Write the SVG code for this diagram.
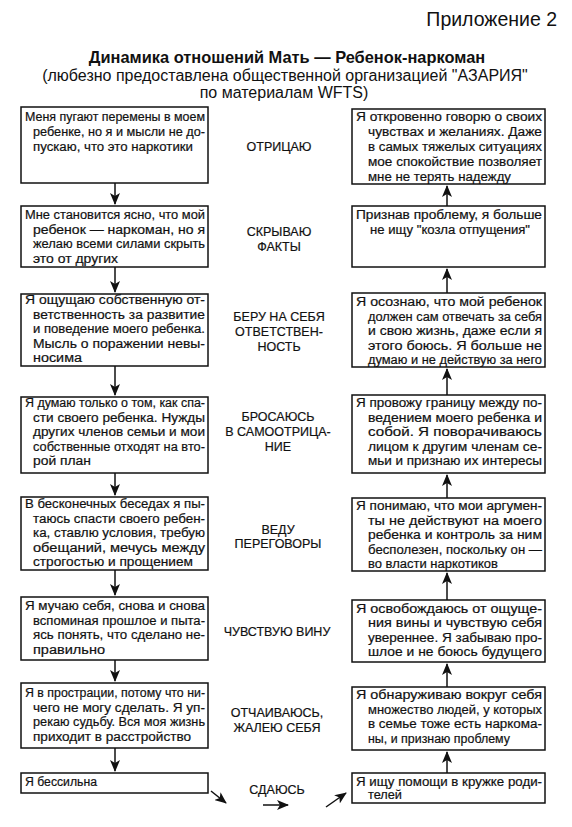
<svg xmlns="http://www.w3.org/2000/svg" width="572" height="827" viewBox="0 0 572 827">
<defs>
<marker id="ah" markerUnits="userSpaceOnUse" markerWidth="12" markerHeight="10" viewBox="0 0 12 10" refX="11" refY="5" orient="auto">
<path d="M0,0 L12,5 L0,10 L3,5 z" fill="#111"/>
</marker>
<style>
.box{fill:#fff;stroke:#111;stroke-width:1.5}
.t{font-family:"Liberation Sans",Arial,sans-serif;font-size:12.5px;fill:#111;stroke:#111;stroke-width:0.2}
.m{font-family:"Liberation Sans",Arial,sans-serif;font-size:12.5px;fill:#111;stroke:#111;stroke-width:0.2;text-anchor:middle}
.c{stroke:#111;stroke-width:1.5;fill:none;marker-end:url(#ah)}
.h{font-family:"Liberation Sans",Arial,sans-serif;fill:#111;text-anchor:middle}
</style>
</defs>
<rect width="572" height="827" fill="#fff"/>
<g id="header">
<text x="557" y="26" font-family="Liberation Sans, Arial, sans-serif" font-size="19.5" text-anchor="end" fill="#111">Приложение 2</text>
<text class="h" x="287" y="63" font-size="16.4" font-weight="bold">Динамика отношений Мать — Ребенок-наркоман</text>
<text class="h" x="285" y="80.5" font-size="16">(любезно предоставлена общественной организацией "АЗАРИЯ"</text>
<text class="h" x="284" y="98" font-size="16">по материалам WFTS)</text>
</g>
<g id="L1"><rect class="box" x="21" y="107" width="187" height="76"/>
<text class="t" x="25" y="121" textLength="180" lengthAdjust="spacingAndGlyphs">Меня пугают перемены в моем</text>
<text class="t" x="33" y="136" textLength="172" lengthAdjust="spacingAndGlyphs">ребенке, но я и мысли не до-</text>
<text class="t" x="33" y="151" textLength="160" lengthAdjust="spacingAndGlyphs">пускаю, что это наркотики</text></g>
<g id="L2"><rect class="box" x="21" y="206" width="187" height="61"/>
<text class="t" x="25" y="219" textLength="180" lengthAdjust="spacingAndGlyphs">Мне становится ясно, что мой</text>
<text class="t" x="33" y="233.5" textLength="172" lengthAdjust="spacingAndGlyphs">ребенок — наркоман, но я</text>
<text class="t" x="33" y="248" textLength="172" lengthAdjust="spacingAndGlyphs">желаю всеми силами скрыть</text>
<text class="t" x="33" y="262.5" textLength="85" lengthAdjust="spacingAndGlyphs">это от других</text></g>
<g id="L3"><rect class="box" x="21" y="294" width="187" height="72"/>
<text class="t" x="25" y="304" textLength="180" lengthAdjust="spacingAndGlyphs">Я ощущаю собственную от-</text>
<text class="t" x="33" y="318.5" textLength="172" lengthAdjust="spacingAndGlyphs">ветственность за развитие</text>
<text class="t" x="33" y="333" textLength="172" lengthAdjust="spacingAndGlyphs">и поведение моего ребенка.</text>
<text class="t" x="33" y="347.5" textLength="172" lengthAdjust="spacingAndGlyphs">Мысль о поражении невы-</text>
<text class="t" x="33" y="362" textLength="49" lengthAdjust="spacingAndGlyphs">носима</text></g>
<g id="L4"><rect class="box" x="21" y="397" width="187" height="76"/>
<text class="t" x="25" y="407" textLength="180" lengthAdjust="spacingAndGlyphs">Я думаю только о том, как спа-</text>
<text class="t" x="33" y="421.5" textLength="172" lengthAdjust="spacingAndGlyphs">сти своего ребенка. Нужды</text>
<text class="t" x="33" y="436" textLength="172" lengthAdjust="spacingAndGlyphs">других членов семьи и мои</text>
<text class="t" x="33" y="450.5" textLength="172" lengthAdjust="spacingAndGlyphs">собственные отходят на вто-</text>
<text class="t" x="33" y="465" textLength="58" lengthAdjust="spacingAndGlyphs">рой план</text></g>
<g id="L5"><rect class="box" x="21" y="497" width="187" height="73"/>
<text class="t" x="25" y="508" textLength="180" lengthAdjust="spacingAndGlyphs">В бесконечных беседах я пы-</text>
<text class="t" x="33" y="522.5" textLength="172" lengthAdjust="spacingAndGlyphs">таюсь спасти своего ребен-</text>
<text class="t" x="33" y="537" textLength="172" lengthAdjust="spacingAndGlyphs">ка, ставлю условия, требую</text>
<text class="t" x="33" y="551.5" textLength="172" lengthAdjust="spacingAndGlyphs">обещаний, мечусь между</text>
<text class="t" x="33" y="566" textLength="160" lengthAdjust="spacingAndGlyphs">строгостью и прощением</text></g>
<g id="L6"><rect class="box" x="21" y="597" width="187" height="63"/>
<text class="t" x="25" y="610" textLength="180" lengthAdjust="spacingAndGlyphs">Я мучаю себя, снова и снова</text>
<text class="t" x="33" y="624.5" textLength="172" lengthAdjust="spacingAndGlyphs">вспоминая прошлое и пыта-</text>
<text class="t" x="33" y="639" textLength="172" lengthAdjust="spacingAndGlyphs">ясь понять, что сделано не-</text>
<text class="t" x="33" y="653.5" textLength="72" lengthAdjust="spacingAndGlyphs">правильно</text></g>
<g id="L7"><rect class="box" x="21" y="683" width="187" height="65"/>
<text class="t" x="25" y="697" textLength="180" lengthAdjust="spacingAndGlyphs">Я в прострации, потому что ни-</text>
<text class="t" x="33" y="711.5" textLength="172" lengthAdjust="spacingAndGlyphs">чего не могу сделать. Я уп-</text>
<text class="t" x="33" y="726" textLength="172" lengthAdjust="spacingAndGlyphs">рекаю судьбу. Вся моя жизнь</text>
<text class="t" x="33" y="740.5" textLength="158" lengthAdjust="spacingAndGlyphs">приходит в расстройство</text></g>
<g id="L8"><rect class="box" x="21" y="773" width="187" height="20"/>
<text class="t" x="25" y="786" textLength="72" lengthAdjust="spacingAndGlyphs">Я бессильна</text></g>

<g id="R1"><rect class="box" x="352" y="109" width="193" height="75"/>
<text class="t" x="356" y="121" textLength="186" lengthAdjust="spacingAndGlyphs">Я откровенно говорю о своих</text>
<text class="t" x="368" y="136" textLength="174" lengthAdjust="spacingAndGlyphs">чувствах и желаниях. Даже</text>
<text class="t" x="368" y="151" textLength="174" lengthAdjust="spacingAndGlyphs">в самых тяжелых ситуациях</text>
<text class="t" x="368" y="166" textLength="174" lengthAdjust="spacingAndGlyphs">мое спокойствие позволяет</text>
<text class="t" x="368" y="180.5" textLength="143" lengthAdjust="spacingAndGlyphs">мне не терять надежду</text></g>
<g id="R2"><rect class="box" x="352" y="206" width="193" height="61"/>
<text class="t" x="356" y="219" textLength="186" lengthAdjust="spacingAndGlyphs">Признав проблему, я больше</text>
<text class="t" x="370" y="234" textLength="160" lengthAdjust="spacingAndGlyphs">не ищу "козла отпущения"</text></g>
<g id="R3"><rect class="box" x="352" y="293" width="193" height="74"/>
<text class="t" x="356" y="306" textLength="186" lengthAdjust="spacingAndGlyphs">Я осознаю, что мой ребенок</text>
<text class="t" x="368" y="320.5" textLength="174" lengthAdjust="spacingAndGlyphs">должен сам отвечать за себя</text>
<text class="t" x="368" y="335" textLength="174" lengthAdjust="spacingAndGlyphs">и свою жизнь, даже если я</text>
<text class="t" x="368" y="349.5" textLength="174" lengthAdjust="spacingAndGlyphs">этого боюсь. Я больше не</text>
<text class="t" x="368" y="364" textLength="174" lengthAdjust="spacingAndGlyphs">думаю и не действую за него</text></g>
<g id="R4"><rect class="box" x="352" y="395" width="193" height="78"/>
<text class="t" x="356" y="407" textLength="186" lengthAdjust="spacingAndGlyphs">Я провожу границу между по-</text>
<text class="t" x="368" y="421.5" textLength="174" lengthAdjust="spacingAndGlyphs">ведением моего ребенка и</text>
<text class="t" x="368" y="436" textLength="174" lengthAdjust="spacingAndGlyphs">собой. Я поворачиваюсь</text>
<text class="t" x="368" y="450.5" textLength="174" lengthAdjust="spacingAndGlyphs">лицом к другим членам се-</text>
<text class="t" x="368" y="465" textLength="174" lengthAdjust="spacingAndGlyphs">мьи и признаю их интересы</text></g>
<g id="R5"><rect class="box" x="352" y="498" width="193" height="73"/>
<text class="t" x="356" y="510" textLength="186" lengthAdjust="spacingAndGlyphs">Я понимаю, что мои аргумен-</text>
<text class="t" x="368" y="524.5" textLength="174" lengthAdjust="spacingAndGlyphs">ты не действуют на моего</text>
<text class="t" x="368" y="539" textLength="174" lengthAdjust="spacingAndGlyphs">ребенка и контроль за ним</text>
<text class="t" x="368" y="553.5" textLength="174" lengthAdjust="spacingAndGlyphs">бесполезен, поскольку он —</text>
<text class="t" x="368" y="568" textLength="130" lengthAdjust="spacingAndGlyphs">во власти наркотиков</text></g>
<g id="R6"><rect class="box" x="352" y="600" width="193" height="62"/>
<text class="t" x="356" y="612.5" textLength="186" lengthAdjust="spacingAndGlyphs">Я освобождаюсь от ощуще-</text>
<text class="t" x="368" y="627" textLength="174" lengthAdjust="spacingAndGlyphs">ния вины и чувствую себя</text>
<text class="t" x="368" y="641.5" textLength="174" lengthAdjust="spacingAndGlyphs">увереннее. Я забываю про-</text>
<text class="t" x="368" y="656" textLength="174" lengthAdjust="spacingAndGlyphs">шлое и не боюсь будущего</text></g>
<g id="R7"><rect class="box" x="352" y="687" width="193" height="63"/>
<text class="t" x="356" y="699" textLength="186" lengthAdjust="spacingAndGlyphs">Я обнаруживаю вокруг себя</text>
<text class="t" x="368" y="713.5" textLength="174" lengthAdjust="spacingAndGlyphs">множество людей, у которых</text>
<text class="t" x="368" y="728" textLength="174" lengthAdjust="spacingAndGlyphs">в семье тоже есть наркома-</text>
<text class="t" x="368" y="742.5" textLength="142" lengthAdjust="spacingAndGlyphs">ны, и признаю проблему</text></g>
<g id="R8"><rect class="box" x="352" y="773" width="193" height="30"/>
<text class="t" x="356" y="786" textLength="186" lengthAdjust="spacingAndGlyphs">Я ищу помощи в кружке роди-</text>
<text class="t" x="368" y="799" textLength="34" lengthAdjust="spacingAndGlyphs">телей</text></g>

<g id="labels">
<text class="m" x="279" y="151">ОТРИЦАЮ</text>
<text class="m" x="279" y="236">СКРЫВАЮ</text>
<text class="m" x="279" y="251">ФАКТЫ</text>
<text class="m" x="279" y="321">БЕРУ НА СЕБЯ</text>
<text class="m" x="279" y="336">ОТВЕТСТВЕН-</text>
<text class="m" x="279" y="351">НОСТЬ</text>
<text class="m" x="278" y="421">БРОСАЮСЬ</text>
<text class="m" x="278" y="436">В САМООТРИЦА-</text>
<text class="m" x="278" y="451">НИЕ</text>
<text class="m" x="278" y="534">ВЕДУ</text>
<text class="m" x="278" y="548">ПЕРЕГОВОРЫ</text>
<text class="m" x="277" y="636">ЧУВСТВУЮ ВИНУ</text>
<text class="m" x="277" y="717">ОТЧАИВАЮСЬ,</text>
<text class="m" x="277" y="732">ЖАЛЕЮ СЕБЯ</text>
<text class="m" x="277" y="794">СДАЮСЬ</text>
</g>

<g id="connectors">
<line class="c" x1="115" y1="183" x2="115" y2="204"/>
<line class="c" x1="115" y1="267" x2="115" y2="292"/>
<line class="c" x1="115" y1="366" x2="115" y2="395"/>
<line class="c" x1="115" y1="473" x2="115" y2="495"/>
<line class="c" x1="115" y1="570" x2="115" y2="595"/>
<line class="c" x1="115" y1="660" x2="115" y2="681"/>
<line class="c" x1="115" y1="748" x2="115" y2="771"/>
<line class="c" x1="447" y1="773" x2="447" y2="752"/>
<line class="c" x1="447" y1="687" x2="447" y2="664"/>
<line class="c" x1="447" y1="600" x2="447" y2="573"/>
<line class="c" x1="447" y1="498" x2="447" y2="475"/>
<line class="c" x1="447" y1="395" x2="447" y2="369"/>
<line class="c" x1="447" y1="293" x2="447" y2="269"/>
<line class="c" x1="447" y1="206" x2="447" y2="186"/>
<line class="c" x1="211" y1="791" x2="226" y2="803"/>
<line class="c" x1="263" y1="805" x2="288" y2="805"/>
<line class="c" x1="326" y1="807" x2="346" y2="793"/>
</g>
</svg>
